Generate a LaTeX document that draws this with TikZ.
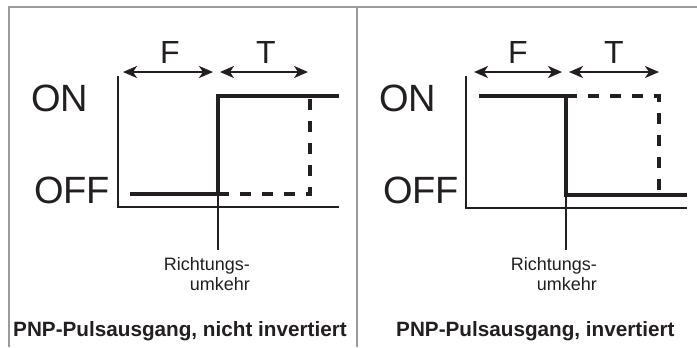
\documentclass[tikz,border=0pt]{standalone}
\usepackage{fontspec}
\setmainfont{Liberation Sans}
\usetikzlibrary{arrows.meta}
\definecolor{ink}{HTML}{231F20}
\definecolor{frame}{HTML}{9A9A9A}
\tikzset{
  axis/.style={draw=ink, line width=2bp},
  signal/.style={draw=ink, line width=3.6bp},
  alt/.style={draw=ink, line width=3.6bp, dash pattern=on 11bp off 11bp},
  marker/.style={draw=ink, line width=2bp},
  tip/.tip={Stealth[length=14bp,width=12bp,inset=4bp]},
  span/.style={draw=ink, line width=2bp, tip-tip},
  level/.style={inner sep=0pt, anchor=base west, font=\fontsize{38bp}{40bp}\selectfont, text=ink},
  period/.style={inner sep=0pt, anchor=base, font=\fontsize{32bp}{34bp}\selectfont, text=ink},
  note/.style={inner sep=0pt, anchor=base east, font=\fontsize{18bp}{20bp}\selectfont, text=ink},
  caption/.style={inner sep=0pt, anchor=base west, font=\bfseries\fontsize{20.7bp}{22bp}\selectfont, text=ink},
}
\begin{document}
\begin{tikzpicture}[x=1bp,y=-1bp]
\useasboundingbox (0,0) rectangle (697,347);
\fill[white] (0,0) rectangle (697,347);

% outer frame and panel divider
\coordinate (fTL) at (9,7);
\coordinate (fTR) at (697,7);
\coordinate (fBL) at (9,347);
\coordinate (dT) at (357,7);
\coordinate (dB) at (357,347);
\draw[frame, line width=2bp] (fTR) -- (fTL) -- (fBL);
\draw[frame, line width=1.5bp] (dT) -- (dB);

% ---------- left panel: not inverted ----------
\coordinate (aT) at (118,76);
\coordinate (aO) at (118,207);
\coordinate (aR) at (339,207);
\path[axis] (aT) -- (aO) -- (aR);

\coordinate (s0) at (130,194);
\coordinate (sr) at (218,194);
\coordinate (su) at (218,96);
\coordinate (s1) at (339,96);
\coordinate (d1) at (310,194);
\coordinate (d2) at (310,99);
\coordinate (rv) at (218,250);
\path[alt] (sr) -- (d1) -- (d2);
\path[marker] (sr) -- (rv);
\path[signal] (s0) -- (sr) -- (su) -- (s1);

\coordinate (fa) at (123,72);
\coordinate (fb) at (213,72);
\coordinate (ta) at (220,72);
\coordinate (tb) at (308,72);
\path[span] (fa) -- (fb);
\path[span] (ta) -- (tb);

\node[period] (lF) at (170,63) {F};
\node[period] (lT) at (266,63) {T};
\node[level] (lON) at (31,111) {ON};
\node[level] (lOFF) at (34,203) {OFF};
\node[note] (lR1) at (250,270) {Richtungs-};
\node[note] (lR2) at (250,290) {umkehr};
\node[caption] (lcap) at (13,336) {PNP-Pulsausgang, nicht invertiert};

% ---------- right panel: inverted ----------
\coordinate (bT) at (466,76);
\coordinate (bO) at (466,208);
\coordinate (bR) at (687,208);
\path[axis] (bT) -- (bO) -- (bR);

\coordinate (t0) at (479,96);
\coordinate (tr) at (566,96);
\coordinate (td) at (566,195);
\coordinate (t1) at (687,195);
\coordinate (e1) at (659,96);
\coordinate (e2) at (659,193);
\coordinate (rw) at (566,250);
\path[alt] (tr) -- (e1) -- (e2);
\path[marker] (td) -- (rw);
\path[signal] (t0) -- (tr) -- (td) -- (t1);

\coordinate (ga) at (474,72);
\coordinate (gb) at (562,72);
\coordinate (ua) at (569,72);
\coordinate (ub) at (659,72);
\path[span] (ga) -- (gb);
\path[span] (ua) -- (ub);

\node[period] (rF) at (518,63) {F};
\node[period] (rT) at (614,63) {T};
\node[level] (rON) at (379,111) {ON};
\node[level] (rOFF) at (383,203) {OFF};
\node[note] (rR1) at (597,270) {Richtungs-};
\node[note] (rR2) at (597,290) {umkehr};
\node[caption] (rcap) at (396,336) {PNP-Pulsausgang, invertiert};
\end{tikzpicture}
\end{document}
